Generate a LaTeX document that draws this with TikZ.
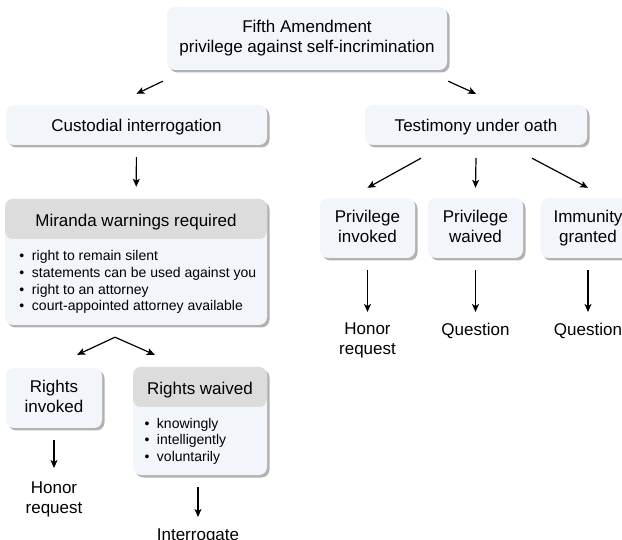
\documentclass[tikz,border=0pt]{standalone}
\usepackage{fontspec}
\setmainfont{Liberation Sans}
\usetikzlibrary{arrows.meta,shadows,calc}
\definecolor{boxfill}{HTML}{F2F5F9}
\definecolor{headfill}{HTML}{DCDCDC}
\tikzset{
    box/.style={rounded corners=8pt, fill=boxfill, align=center, inner sep=0pt,
        drop shadow={shadow xshift=2.5pt, shadow yshift=-2.5pt, fill=black!55, opacity=0.55},
        font=\fontsize{17}{20}\selectfont,
        execute at begin node=\rule{0pt}{16pt}, execute at end node=\rule[-3pt]{0pt}{3pt}},
    headbox/.style={box, path picture={
        \fill[headfill] (path picture bounding box.north west) rectangle ([yshift=-40pt]path picture bounding box.north east);}},
    head/.style={inner sep=0pt, font=\fontsize{17}{20}\selectfont},
    outcome/.style={align=center, inner sep=0pt, anchor=north, font=\fontsize{17}{20}\selectfont},
    list/.style={align=left, inner sep=0pt, anchor=north west, font=\fontsize{14}{16.7}\selectfont},
    arr/.style={-{Stealth[length=8pt,width=7pt,inset=2pt]}, line width=1.2pt},
    down/.style={arr, shorten <=12pt, shorten >=#1},
}
\newcommand{\itm}[1]{\makebox[12.5pt][l]{\textbullet}#1}
\begin{document}
\begin{tikzpicture}[x=1pt,y=-1pt]
    \useasboundingbox (0,0) rectangle (622,540);
    %% top
    \node[box, minimum width=280pt, minimum height=63pt] (fifth) at (307,38.5)
        {Fifth Amendment\\privilege against self-incrimination};
    \node[box, minimum width=261pt, minimum height=40pt] (cust) at (136.5,125) {Custodial interrogation};
    \node[box, minimum width=222pt, minimum height=40pt] (oath) at (476,125) {Testimony under oath};
    \draw[arr] ($(fifth.south west)+(-4,11)$) -- ($(cust.north)+(0,-11)$);
    \draw[arr] ($(fifth.south east)+(1,11)$) -- ($(oath.north)+(0,-11)$);
    % custodial side
    \node[headbox, minimum width=262pt, minimum height=126pt] (mir) at (136,262) {};
    \node[head] (mirhead) at ($(mir.north)+(0,23.5)$) {Miranda warnings required};
    \node[list] (mirlist) at ($(mir.north west)+(14.5,51.5)$)
        {\itm{right to remain silent}\\\itm{statements can be used against you}\\
         \itm{right to an attorney}\\\itm{court-appointed attorney available}};
    \draw[down=12pt] (cust) -- (mir);
    \node[box, minimum width=96pt, minimum height=60pt] (rinv) at (54,398) {Rights\\invoked};
    \node[headbox, minimum width=134pt, minimum height=108pt] (rwai) at (200,421) {};
    \node[head] (rwaihead) at ($(rwai.north)+(0,23.5)$) {Rights waived};
    \node[list] (rwailist) at ($(rwai.north west)+(11.5,51)$)
        {\itm{knowingly}\\\itm{intelligently}\\\itm{voluntarily}};
    \coordinate (split) at ($(mir.south)+(-21,12)$);
    \draw[arr] (split) -- ($(rinv.north east)+(-25,-13)$);
    \draw[arr] (split) -- ($(rwai.north west)+(22,-12)$);
    \node[outcome] (hon) at (54,481.3) {Honor\\request};
    \node[outcome] (interr) at (198,528.8) {Interrogate};
    \draw[down=13.3pt] (rinv.south) -- (hon.north);
    \draw[down=11.8pt] (interr.north |- rwai.south) -- (interr.north);
    % testimony side
    \foreach \x/\n/\t/\o in {367.5/pinv/{Privilege\\invoked}/{Honor\\request},
                             475.5/pwai/{Privilege\\waived}/Question,
                             588/imm/{Immunity\\granted}/Question}{
        \node[box, minimum width=95pt, minimum height=60pt] (\n) at (\x,228) {\t};
        \node[outcome] (\n out) at (\x,323) {\o};
        \draw[down=11pt] (\n.south) -- (\n out.north);
    }
    \draw[arr] ($(oath.south)+(-55,13)$) -- ($(pinv.north)+(0,-10)$);
    \draw[arr] ($(oath.south)+(0,13)$) -- ($(pwai.north)+(0,-10)$);
    \draw[arr] ($(oath.south)+(56,13)$) -- ($(imm.north)+(0,-10)$);
\end{tikzpicture}
\end{document}
